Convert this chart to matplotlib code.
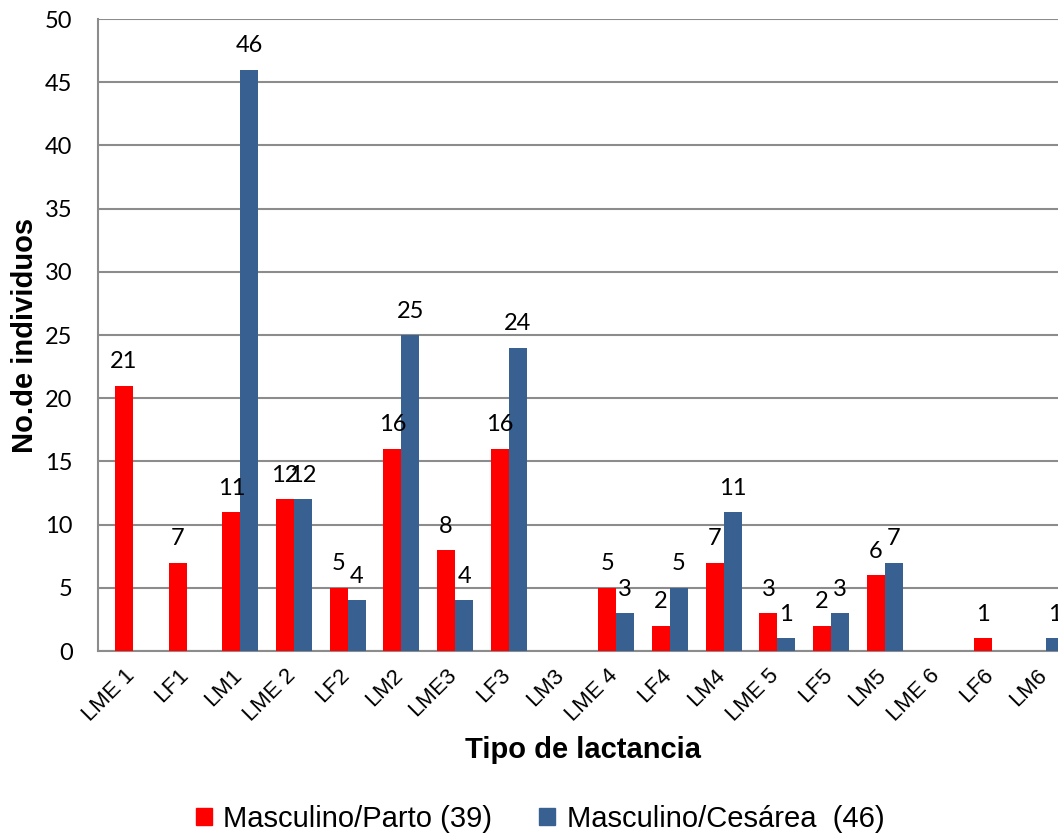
import matplotlib.pyplot as plt
from matplotlib.patches import Patch
import matplotlib.transforms as mtransforms
import numpy as np

# datos
categorias = ["LME 1", "LF1", "LM1", "LME 2", "LF2", "LM2", "LME3", "LF3", "LM3",
              "LME 4", "LF4", "LM4", "LME 5", "LF5", "LM5", "LME 6", "LF6", "LM6"]
parto = [21, 7, 11, 12, 5, 16, 8, 16, 0, 5, 2, 7, 3, 2, 6, 0, 1, 0]
cesarea = [0, 0, 46, 12, 4, 25, 4, 24, 0, 3, 5, 11, 1, 3, 7, 0, 0, 1]
serie_nombres = ["Masculino/Parto (39)", "Masculino/Cesárea  (46)"]

ROJO = "#FF0000"
AZUL = "#386192"
GRIS = "#8C8C8C"

fig = plt.figure(figsize=(10.58, 8.38), dpi=100)
# axes runs off the right edge, like the original screenshot
ax = fig.add_axes([97.5 / 1058, 187 / 838, 1 - 97.5 / 1058, 632 / 838])

x = np.arange(len(categorias))
w = 0.335
b1 = ax.bar(x - w, parto, w, align="edge", color=ROJO, zorder=3)
b2 = ax.bar(x, cesarea, w, align="edge", color=AZUL, zorder=3)

for bars, vals in [(b1, parto), (b2, cesarea)]:
    for r, v in zip(bars, vals):
        if v == 0:
            continue
        ax.annotate(str(v), (r.get_x() + r.get_width() / 2, v), xytext=(0, 12.5),
                    textcoords="offset points", ha="center", va="baseline",
                    fontsize=17, family="Lato", color="black", annotation_clip=False)

ax.set_ylim(0, 50)
ax.set_xlim(-0.66, (1058 - 133) / 53.7)
ax.set_yticks(range(0, 51, 5))
ax.yaxis.grid(True, color=GRIS, linewidth=1.5, zorder=0)
ax.set_axisbelow(True)
for s in ["top", "right"]:
    ax.spines[s].set_visible(False)
for s in ["left", "bottom"]:
    ax.spines[s].set_color(GRIS)
    ax.spines[s].set_linewidth(1.5)

ax.tick_params(axis="y", length=0, pad=18, labelsize=17)
for t in ax.get_yticklabels():
    t.set_family("Lato")
ax.set_xticks(x)
ax.set_xticklabels(categorias, rotation=45, ha="right", rotation_mode="anchor",
                   fontsize=16, family="Liberation Sans")
ax.tick_params(axis="x", length=0, pad=10)
desplaza = mtransforms.ScaledTranslation(-9 / 100, 0, fig.dpi_scale_trans)
for t in ax.get_xticklabels():
    t.set_transform(t.get_transform() + desplaza)

fig.text(25 / 1058, 1 - 335 / 838, "No.de individuos", fontsize=21, fontweight="bold",
         family="Liberation Sans", ha="center", va="center", rotation=90)
fig.text(583 / 1058, 1 - 750 / 838, "Tipo de lactancia", fontsize=21, fontweight="bold",
         family="Liberation Sans", ha="center", va="center")

handles = [Patch(color=ROJO), Patch(color=AZUL)]
fig.legend(handles, serie_nombres, loc="lower center", bbox_to_anchor=(540 / 1058, -0.025),
           ncol=2, frameon=False, prop={"family": "Liberation Sans", "size": 21},
           handlelength=0.55, handleheight=0.55, handletextpad=0.4, columnspacing=1.6)

fig.savefig("out.png", dpi=100)
